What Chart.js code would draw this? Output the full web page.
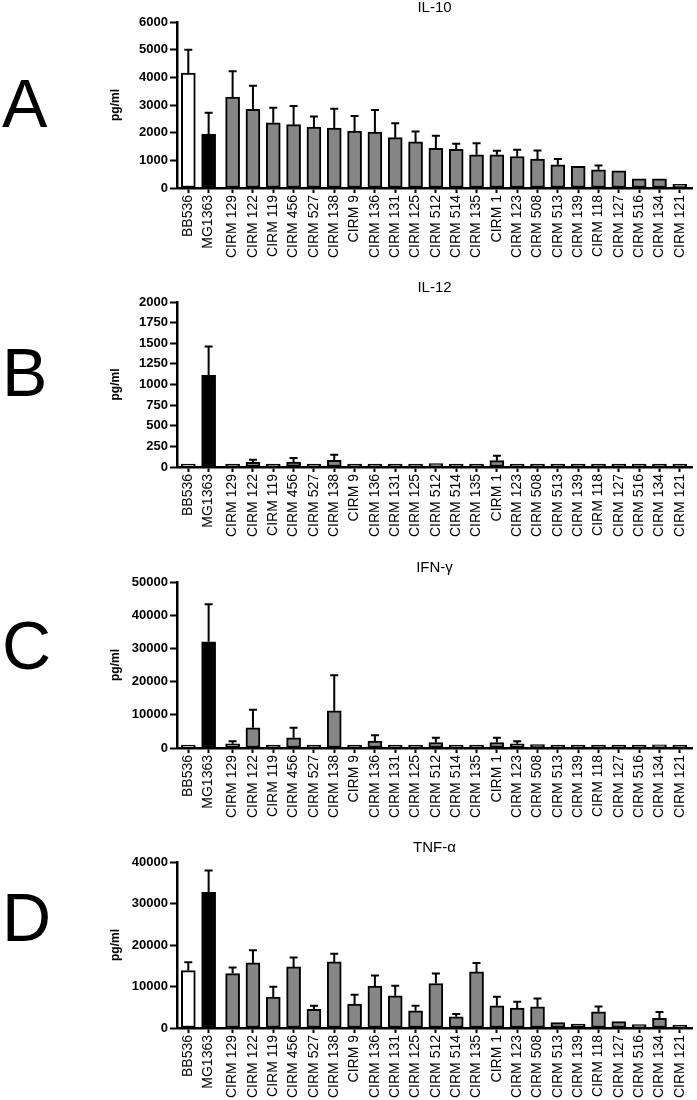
<!DOCTYPE html>
<html>
<head>
<meta charset="utf-8">
<script src="https://cdn.jsdelivr.net/npm/chart.js@4"></script>
<style>
  body { margin: 0; background: #fff; width: 697px; height: 1100px; overflow: hidden; position: relative; font-family: 'Liberation Sans', Arial, sans-serif; }
  canvas { position: absolute; left: 0; }
  .letter { position: absolute; left: 2px; font-size: 68px; line-height: 68px; color: #000; }
</style>
</head>
<body>
<div class="letter" style="top:69px">A</div>
<div class="letter" style="top:338px">B</div>
<div class="letter" style="top:611px">C</div>
<div class="letter" style="top:883px">D</div>

<canvas id="chart-il10" width="697" height="276" style="top:-8px"></canvas>
<canvas id="chart-il12" width="697" height="275" style="top:272px"></canvas>
<canvas id="chart-ifn" width="697" height="276" style="top:552px"></canvas>
<canvas id="chart-tnf" width="697" height="276" style="top:832px"></canvas>

<script>
// strains, in plot order
const strains = ['BB536', 'MG1363', 'CIRM 129', 'CIRM 122', 'CIRM 119', 'CIRM 456', 'CIRM 527', 'CIRM 138',
  'CIRM 9', 'CIRM 136', 'CIRM 131', 'CIRM 125', 'CIRM 512', 'CIRM 514', 'CIRM 135', 'CIRM 1', 'CIRM 123',
  'CIRM 508', 'CIRM 513', 'CIRM 139', 'CIRM 118', 'CIRM 127', 'CIRM 516', 'CIRM 134', 'CIRM 121'];

// IL-10 (pg/ml), mean and error
const il10 = [4150, 1950, 3290, 2840, 2360, 2290, 2200, 2170, 2060, 2020, 1820, 1665, 1430, 1400, 1200, 1200, 1140, 1045, 840, 780, 660, 620, 335, 335, 130];
const il10Err = [850, 770, 930, 855, 540, 675, 380, 695, 545, 800, 520, 375, 455, 195, 420, 145, 240, 310, 205, 60, 155, 65, 60, 70, 20];
const il10Ticks = [0, 1000, 2000, 3000, 4000, 5000, 6000];

// IL-12
const il12 = [20, 1110, 28, 57, 8, 61, 8, 81, 8, 36, 10, 10, 40, 10, 10, 77, 30, 30, 10, 10, 10, 10, 10, 10, 10];
const il12Err = [5, 350, 10, 32, 3, 48, 3, 69, 3, 8, 3, 3, 15, 3, 3, 60, 8, 8, 3, 3, 3, 3, 3, 3, 3];
const il12Ticks = [0, 250, 500, 750, 1000, 1250, 1500, 1750, 2000];

// IFN-gamma
const ifn = [400, 32000, 1250, 6070, 300, 3060, 200, 11200, 200, 2060, 300, 150, 1660, 150, 300, 1660, 1250, 1050, 150, 150, 850, 150, 150, 950, 150];
const ifnErr = [100, 11300, 810, 5430, 50, 3010, 50, 10750, 50, 1810, 100, 50, 1400, 50, 50, 1400, 810, 300, 50, 50, 200, 50, 50, 600, 50];
const ifnTicks = [0, 10000, 20000, 30000, 40000, 50000];

// TNF-alpha
const tnf = [13840, 32700, 13120, 15680, 7440, 14720, 4480, 15920, 5760, 10080, 7760, 4160, 10720, 2720, 13520, 5360, 4800, 5120, 1280, 960, 3920, 1520, 800, 2320, 400];
const tnfErr = [2000, 5260, 1440, 3040, 2480, 2240, 880, 2000, 2240, 2560, 2400, 1200, 2400, 640, 2160, 2160, 1520, 2000, 240, 80, 1280, 160, 50, 1520, 50];
const tnfTicks = [0, 10000, 20000, 30000, 40000];

// small gap between the two controls and the CIRM strains
const groupGap = 0.18;
const xPos = strains.map((s, i) => i + (i >= 2 ? groupGap : 0));
const barColors = strains.map((s, i) => i === 0 ? '#ffffff' : (i === 1 ? '#000000' : '#868686'));

Chart.defaults.font.family = "'Liberation Sans', Arial, sans-serif";
Chart.defaults.color = '#000';

// upper error bars with a cap
const errorBars = {
  id: 'errorBars',
  afterDatasetsDraw(chart) {
    const ctx = chart.ctx;
    const y = chart.scales.y;
    const ds = chart.data.datasets[0];
    const meta = chart.getDatasetMeta(0);
    ctx.save();
    ctx.strokeStyle = '#000';
    ctx.lineWidth = 2;
    meta.data.forEach((bar, i) => {
      const top = y.getPixelForValue(ds.data[i].y + ds.errors[i]);
      if (bar.y - top < 2) return;
      ctx.beginPath();
      ctx.moveTo(bar.x, bar.y);
      ctx.lineTo(bar.x, top);
      ctx.moveTo(bar.x - 4, top);
      ctx.lineTo(bar.x + 4, top);
      ctx.stroke();
    });
    ctx.restore();
  }
};

function makeChart(id, title, values, errors, ticks) {
  return new Chart(document.getElementById(id), {
    type: 'bar',
    data: {
      datasets: [{
        data: xPos.map((x, i) => ({ x: x, y: values[i] })),
        errors: errors,
        backgroundColor: barColors,
        borderColor: '#000',
        borderWidth: 2,
        borderSkipped: false,
        barThickness: 14,
        minBarLength: 3
      }]
    },
    options: {
      responsive: false,
      animation: false,
      layout: { padding: { right: 5 } },
      plugins: {
        legend: { display: false },
        tooltip: { enabled: false },
        title: {
          display: true,
          text: title,
          fullSize: false,
          color: '#000',
          font: { size: 15, weight: 'normal' },
          padding: { top: 7, bottom: 5 }
        }
      },
      scales: {
        x: {
          type: 'linear',
          offset: false,
          min: -0.556,
          max: 24.78,
          afterBuildTicks: s => { s.ticks = xPos.map(v => ({ value: v })); },
          afterFit: s => { s.height = 80; s.paddingLeft = 0; s.paddingRight = 0; },
          ticks: {
            autoSkip: false,
            minRotation: 90,
            maxRotation: 90,
            padding: 2,
            color: '#000',
            font: { size: 14 },
            callback: (v, i) => strains[i]
          },
          grid: { offset: false, drawOnChartArea: false, tickLength: 5, tickWidth: 2, tickColor: '#000' },
          border: { color: '#000', width: 2.5 }
        },
        y: {
          min: 0,
          max: ticks[ticks.length - 1],
          afterBuildTicks: s => { s.ticks = ticks.map(v => ({ value: v })); },
          afterFit: s => { s.width = 177; },
          ticks: {
            padding: 2,
            color: '#000',
            font: { size: 13, weight: 'bold' },
            callback: v => String(v)
          },
          grid: { drawOnChartArea: false, tickLength: 7, tickWidth: 2, tickColor: '#000' },
          border: { color: '#000', width: 2.5 },
          title: {
            display: true,
            text: 'pg/ml',
            color: '#000',
            font: { size: 12, weight: 'bold' },
            padding: { top: 108, bottom: 0 }
          }
        }
      }
    },
    plugins: [errorBars]
  });
}

makeChart('chart-il10', 'IL-10', il10, il10Err, il10Ticks);
makeChart('chart-il12', 'IL-12', il12, il12Err, il12Ticks);
makeChart('chart-ifn', 'IFN-\u03b3', ifn, ifnErr, ifnTicks);
makeChart('chart-tnf', 'TNF-\u03b1', tnf, tnfErr, tnfTicks);
</script>
</body>
</html>
